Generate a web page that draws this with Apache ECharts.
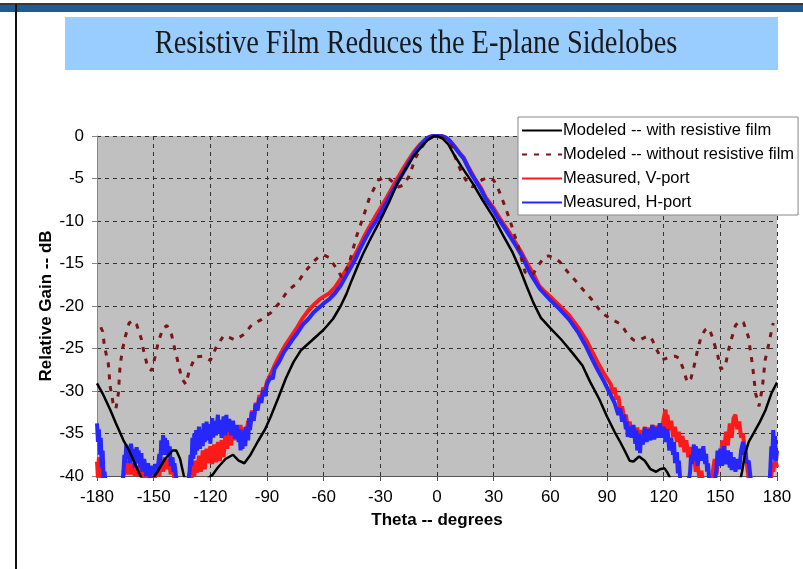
<!DOCTYPE html>
<html>
<head>
<meta charset="UTF-8">
<title>Resistive Film Reduces the E-plane Sidelobes</title>
<script src="https://cdn.jsdelivr.net/npm/echarts@6/dist/echarts.min.js"></script>
<style>
  html, body { margin: 0; padding: 0; background: #fff; }
  #main { width: 803px; height: 569px; }
</style>
</head>
<body>
<div id="main"></div>
<script type="text/javascript">
// --- data: [theta (deg), relative gain (dB)] ---
var xTicks = [-180, -150, -120, -90, -60, -30, 0, 30, 60, 90, 120, 150, 180];
var yTicks = [-40, -35, -30, -25, -20, -15, -10, -5, 0];

var modeledWith = [
  [-180,-29.1],[-177,-30.3],[-173,-32.2],[-170,-33.8],[-166,-35.8],[-163,-37],[-160,-38.5],[-156,-40.5],
  [-152,-40.8],[-148,-39.5],[-144,-38],[-140,-37],[-138,-37],[-136,-38],[-134,-40],[-131,-42],[-126,-42],
  [-121,-40.2],[-119,-39.9],[-116,-39],[-112,-38],[-108,-37.5],[-105,-38.2],[-102,-38.5],[-99,-37.6],
  [-95,-36],[-91,-34.5],[-88,-33],[-84,-30.8],[-80,-28.5],[-76,-26.6],[-72,-25.2],[-66,-24],[-60,-22.8],
  [-55,-21.5],[-51,-20],[-48,-18.6],[-45,-16.9],[-42,-15.3],[-39,-13.8],[-35,-12],[-30,-9.9],[-25,-7.6],
  [-21,-5.6],[-17,-4],[-12.5,-2.4],[-8,-1.2],[-5,-0.5],[-2,-0.05],[0,0],[3,-0.3],[6,-1.0],[9,-2.2],
  [13,-3.6],[16,-4.6],[19,-5.6],[24,-7.5],[30,-9.6],[35,-11.7],[40,-13.7],[44,-15.7],[47.5,-17.7],
  [51,-19.6],[55,-21.4],[60,-22.6],[66,-24],[72,-25.6],[77,-27],[81,-28.9],[86,-31],[90,-33],[94,-34.8],
  [97,-36],[100,-37.3],[102,-38.2],[104,-38.3],[107,-37.7],[110,-38.2],[113,-39.2],[116,-39.5],[118,-39.2],
  [120.5,-39.1],[122,-39.6],[124,-40.5],[128,-42],[155,-42],[160,-41],[161.5,-39.5],[163,-37.5],[165,-36],
  [168,-34.8],[171,-33.6],[174,-32.2],[177,-30.3],[180,-29]
];

var modeledWithout = [
  [-178,-22.5],[-177,-23],[-176,-24.8],[-174,-26.8],[-173,-29.5],[-171.5,-31.4],[-170,-32.1],[-168.7,-30.3],
  [-167.8,-27.1],[-166.6,-25.2],[-165,-23.6],[-163,-22],[-161,-21.7],[-159,-22.2],[-156.5,-23.9],[-155,-25.6],
  [-153,-27.3],[-151,-27.6],[-149.3,-26],[-147.5,-24.2],[-145,-22.6],[-143,-22.3],[-140.5,-23.4],[-138.7,-25.2],
  [-137,-26.7],[-135.2,-28.5],[-133,-29.2],[-131,-27.5],[-128,-26],[-124,-25.9],[-120,-26.4],[-119,-26.2],
  [-117,-24.9],[-113,-23.5],[-110,-23.7],[-107,-24],[-104,-23.6],[-102,-23.3],[-98,-22.2],[-93,-21.6],
  [-88,-20.8],[-83,-19.5],[-79,-18.2],[-74,-17.3],[-70,-16],[-65.5,-14.8],[-62,-14.1],[-60,-14],[-57,-14.3],
  [-55,-15],[-52,-16],[-50.5,-16.6],[-48,-15.8],[-46,-14.6],[-42.6,-11.8],[-39,-9.5],[-35.5,-7.1],[-31,-5.2],
  [-28,-4.9],[-25,-5.1],[-20.5,-6],[-18,-5.8],[-15,-4.8],[-11,-2.4],[-8,-1.3],[-5.4,-0.5],[-2,-0.05],[0,0],
  [2,-0.05],[5,-0.5],[8,-1.3],[9.5,-2.4],[12,-3.8],[14.8,-5],[17,-5.8],[19,-6],[21.5,-5.4],[24.5,-5.1],
  [27,-4.9],[30,-5.2],[32,-6],[34,-7.1],[36,-8.3],[38.6,-9.9],[41,-11.6],[43,-13],[45,-14.7],[46.6,-16],
  [49,-16.4],[51,-16.2],[53,-15.4],[55,-14.8],[57,-14.2],[59,-14.1],[62,-14.3],[65,-14.8],[67,-15.4],
  [70,-16.2],[74,-17.2],[77.4,-18.1],[83,-19.5],[87,-20.8],[92,-21.5],[97.7,-22.2],[101,-23.4],[104,-24],
  [106.6,-24.1],[109,-23.8],[112,-23.5],[114,-24],[116,-25],[119,-26.3],[121,-26.2],[123,-26],[126,-25.9],
  [128,-26.1],[130.4,-27.4],[132.5,-29],[134.5,-28.5],[136.5,-26.7],[138,-25.1],[140,-23.5],[142,-22.8],
  [144,-22.6],[146,-23.8],[148.6,-25.8],[150.2,-27.4],[152.5,-27.2],[154.3,-25.2],[156,-23.8],[158,-22.3],
  [160,-21.8],[162.2,-21.9],[164.8,-23.6],[167,-26.9],[168.7,-30.3],[170.5,-31.8],[172.3,-29.5],[173.7,-26.4],
  [175.5,-24.6],[177.2,-22.8],[178,-22]
];

var measuredV = [
  [-180,-38.3],[-179.5,-40.2],[-179,-37.8],[-178.5,-39.5],[-178,-38.6],[-177.5,-40.5],[-177,-42],[-167,-42],
  [-166,-40],[-165,-38.5],[-164,-39.8],[-163,-38.2],[-162,-39.8],[-161,-38.5],[-160,-40],[-159,-38.8],
  [-158,-40],[-157,-38.6],[-156,-40.2],[-155,-39],[-154,-40.5],[-153,-39],[-152,-40.2],[-151,-39.6],
  [-150,-41],[-149,-39.8],[-148,-38.8],[-147,-40],[-146,-38],[-145,-39.5],[-144,-37.8],[-143,-39.2],
  [-142,-38],[-141,-39.8],[-140,-38.8],[-139,-40.4],[-138,-41.5],[-132,-41.5],[-130,-40.3],[-129,-38.5],
  [-128.5,-40],[-128,-38.2],[-127,-39.6],[-126,-37.6],[-125,-39.5],[-124,-37],[-123,-39.2],[-122,-36.8],
  [-121,-38.5],[-120,-36.5],[-119,-38.6],[-118,-36.3],[-117,-38.4],[-116,-36],[-115,-38.2],[-114,-35.8],
  [-113,-37.8],[-112,-35],[-111,-36.8],[-110,-34.6],[-109,-36.4],[-108,-34.3],[-107,-35.8],[-106,-34.2],
  [-105,-35.5],[-104,-34],[-103,-35.8],[-102,-34.3],[-101,-35.2],[-100,-33.5],[-99,-34],[-98,-32.3],
  [-97,-33.2],[-96,-31.4],[-95,-31.8],[-94,-30.5],[-93,-30.8],[-92,-29.6],[-91,-29.9],[-90,-28.9],
  [-89,-29],[-88,-28],[-87,-27.9],[-86,-27],[-85,-26.8],[-84,-26.1],[-82,-25.3],[-80,-24.5],[-77,-23.5],
  [-74,-22.5],[-71,-21.4],[-68,-20.5],[-65,-19.8],[-62,-19.2],[-60,-18.9],[-57,-18.5],[-54,-17.8],
  [-51,-16.8],[-48,-15.7],[-45,-14.6],[-42,-13.4],[-39,-12],[-36,-10.8],[-33,-9.6],[-30,-8.5],[-27,-7.4],
  [-24,-6.2],[-21,-5],[-18,-3.9],[-15,-2.8],[-12,-1.8],[-9,-1],[-6,-0.4],[-4,-0.1],[-2,0],[0,0],[2,0],
  [4,-0.1],[6,-0.4],[8,-0.9],[10,-1.4],[12,-2],[14,-2.5],[16,-3.4],[18,-4.2],[20,-5],[23,-6],[26,-7.3],
  [30,-8.5],[33,-9.6],[36,-10.6],[39,-11.6],[42,-12.7],[45,-13.8],[48,-15.1],[51,-16.2],[54,-17.6],
  [57,-18.3],[60,-18.9],[65,-20],[70,-21.1],[75,-22.6],[79,-24],[82,-25.3],[85,-26.6],[88,-27.8],
  [90,-28.5],[92,-29.2],[93,-30.3],[94,-29.6],[95,-31],[96,-30.6],[97,-32.2],[98,-31.8],[99,-33.2],
  [100,-32.8],[101,-34.2],[102,-33.6],[103,-35.2],[104,-34.2],[105,-35.8],[106,-34.3],[107,-36.5],
  [108,-34.6],[109,-35.8],[110,-34.2],[111,-35.6],[112,-34.3],[113,-35.4],[114,-34],[115,-35.6],
  [116,-34.1],[117,-35.2],[118,-33.8],[119,-35],[120,-33.2],[121,-32.2],[121.5,-34.5],[122,-32.8],
  [123,-34.6],[124,-33.5],[125,-35.4],[126,-34.2],[127,-36],[128,-34.8],[129,-36.6],[130,-35.3],
  [131,-37.2],[132,-35.8],[133,-37.8],[134,-36.6],[135,-38.5],[136,-37.5],[137,-39.5],[138,-38.8],
  [139,-40.3],[140,-39.4],[141,-41],[145,-41],[146,-39.5],[147,-38],[148,-39.8],[149,-37.5],[150,-38.6],
  [151,-35.8],[152,-37.2],[153,-34.8],[154,-36.4],[155,-33.8],[156,-35.5],[157,-33.2],[158,-32.8],
  [159,-34.5],[160,-33.6],[161,-35.5],[162,-35],[163,-37.2],[164,-38.5],[165,-40.4],[166,-41.5],
  [176,-41.5],[177,-40],[177.5,-38.5],[178,-39.5],[179,-38],[180,-39]
];

var measuredH = [
  [-180,-33.8],[-179.5,-36],[-179,-34.5],[-178.5,-37.5],[-178,-35.5],[-177.5,-39],[-177,-37],[-176.5,-40.5],
  [-176,-39.5],[-175,-42],[-167,-42],[-166,-39.5],[-165.5,-37.5],[-165,-38.5],[-164.5,-36.3],[-164,-38],
  [-163,-36.5],[-162.5,-38.5],[-162,-36.2],[-161,-38.2],[-160.5,-36.8],[-160,-39],[-159,-36.6],[-158.5,-38.5],
  [-158,-37],[-157,-39],[-156.5,-37.3],[-156,-39.5],[-155,-38],[-154,-40],[-153,-38.5],[-152,-40.2],
  [-151,-38.8],[-150,-39.8],[-149,-38.6],[-148,-39.5],[-147,-37.4],[-146.5,-38.8],[-146,-35.8],[-145.5,-37.5],
  [-145,-35.2],[-144.5,-37],[-144,-35.5],[-143.5,-37.5],[-143,-35.8],[-142,-37.8],[-141.5,-36.5],[-141,-38.8],
  [-140,-37.8],[-139.5,-39.5],[-139,-38.5],[-138,-40.3],[-137,-41],[-132,-41],[-131,-39.5],[-130.5,-37.5],
  [-130,-38.8],[-129.5,-35.5],[-129,-38],[-128.5,-35],[-128,-37.5],[-127.5,-34.6],[-127,-37],[-126,-34.2],
  [-125.5,-36.8],[-125,-34.5],[-124,-36.5],[-123.5,-33.8],[-123,-36],[-122,-33.6],[-121,-35.8],[-120.5,-33.9],
  [-120,-36.2],[-119,-33.2],[-118.5,-35.5],[-118,-33.5],[-117,-35.2],[-116,-32.8],[-115.5,-35],[-115,-33.4],
  [-114,-35.5],[-113,-33],[-112,-35.2],[-111.5,-32.8],[-111,-34.8],[-110,-33.3],[-109,-35.2],[-108,-33.5],
  [-107,-35.6],[-106,-34],[-105,-36],[-104.5,-34.5],[-104,-37],[-103.5,-35],[-103,-36.8],[-102,-34.6],
  [-101.5,-36.5],[-101,-34.2],[-100,-35.8],[-99.5,-33.2],[-99,-34.6],[-98,-32.5],[-97,-33.5],[-96,-31.5],
  [-95,-32.3],[-94,-30.8],[-93,-31.4],[-92,-29.9],[-91,-30.6],[-90,-29.2],[-89,-29.4],[-88,-28.3],
  [-87,-28.6],[-86,-27.4],[-85,-27.3],[-84,-26.7],[-83,-26.3],[-81,-25.4],[-79,-24.8],[-77,-24.1],
  [-74,-23.2],[-71,-22.2],[-68,-21.5],[-65.5,-20.8],[-63,-20.3],[-60,-19.7],[-57,-19.2],[-54,-18.5],
  [-51,-17.6],[-48,-16.4],[-45,-15.2],[-43,-14.4],[-41,-13.4],[-38,-12.1],[-35,-10.9],[-32,-9.9],
  [-29,-8.7],[-26,-7.5],[-23,-6.3],[-20,-5.1],[-17,-4],[-14,-2.8],[-11,-1.7],[-8,-0.9],[-6,-0.4],
  [-4,-0.1],[-2,0],[0,0],[2,0],[4,-0.1],[6,-0.4],[8,-0.9],[10,-1.5],[12,-2.1],[14,-2.6],[16,-3.5],
  [18,-4.4],[20,-5.1],[23,-6.2],[26,-7.5],[29.8,-8.7],[33,-9.9],[36,-10.9],[38.6,-11.8],[42,-13],
  [45,-14.1],[47.5,-15.3],[50,-16.4],[54.5,-18],[60,-19.3],[65,-20.4],[70,-21.6],[75,-23.2],[79,-24.8],
  [82,-26.2],[85,-27.5],[88,-28.7],[90,-29.6],[92,-30.5],[94,-31.4],[95,-31.4],[96,-32.8],[97,-32],
  [98,-33.6],[99,-32.8],[100,-34.5],[100.5,-33.6],[101,-35.4],[102,-34.2],[103,-35.5],[104,-34],
  [105,-36.2],[105.5,-34.6],[106,-37],[107,-35],[107.5,-37.3],[108,-35.3],[109,-36.3],[110,-34.3],
  [111,-36],[112,-34.5],[113,-35.8],[114,-34],[115,-35.7],[116,-34.3],[117,-35.5],[118,-33.8],
  [119,-35.5],[120,-34.2],[121,-36],[122,-34.5],[123,-37],[124,-35.5],[125,-37.5],[125.5,-36],
  [126,-38.5],[127,-37.2],[127.5,-39.7],[128,-38.2],[129,-41],[133,-41],[134,-39.5],[134.5,-37.5],
  [135,-38.6],[136,-36.3],[136.5,-38.2],[137,-36.5],[138,-38.8],[139,-36.8],[140,-38.2],[141,-36.5],
  [142,-38.6],[142.5,-37.4],[143,-39.5],[143.5,-38.5],[144,-40.3],[145,-41],[147,-41],[148,-39],
  [148.5,-37],[149,-38.8],[150,-36.8],[151,-38.8],[152,-36.5],[153,-38.6],[154,-37],[155,-39],
  [155.5,-37.2],[156,-39.3],[157,-37.8],[158,-39.5],[159,-38],[160,-39.2],[161,-37],[162,-36],
  [162.5,-37.5],[163,-36.4],[164,-38.5],[165,-38.2],[166,-40.2],[167,-41],[176,-41],[176.5,-39],
  [177,-36.5],[177.5,-38],[178,-34.6],[178.5,-36.5],[179,-35.3],[179.5,-38.2],[180,-37]
];

var seriesNames = [
  'Modeled -- with resistive film',
  'Modeled -- without resistive film',
  'Measured, V-port',
  'Measured, H-port'
];

var myChart = echarts.init(document.getElementById('main'));

var labelFont = { fontFamily: 'Liberation Sans', fontSize: 17, color: '#000' };

myChart.setOption({
  backgroundColor: '#fff',
  animation: false,
  graphic: [
    // slide frame
    { type: 'rect', shape: { x: 0, y: 3, width: 803, height: 2 }, style: { fill: '#3a3a3a' }, silent: true },
    { type: 'rect', shape: { x: 0, y: 5, width: 803, height: 7 }, style: { fill: '#1d5c9b' }, silent: true },
    { type: 'rect', shape: { x: 15, y: 4, width: 2, height: 565 }, style: { fill: '#111' }, silent: true },
    // title banner
    { type: 'rect', shape: { x: 65, y: 17, width: 713, height: 53 }, style: { fill: '#99ccff' }, silent: true },
    {
      type: 'text', x: 416, y: 44, scaleX: 0.86,
      style: {
        text: 'Resistive Film Reduces the E-plane Sidelobes',
        fontFamily: 'Liberation Serif', fontSize: 33, fill: '#1a1a1a',
        textAlign: 'center', textVerticalAlign: 'middle'
      },
      silent: true
    }
  ],
  legend: {
    data: seriesNames,
    orient: 'vertical',
    left: 518,
    top: 117,
    backgroundColor: '#fff',
    borderColor: '#888',
    borderWidth: 1,
    borderRadius: 0,
    padding: [5, 4, 4, 3],
    itemWidth: 40,
    itemHeight: 12,
    itemGap: 7,
    itemStyle: { opacity: 0 },
    textStyle: { fontFamily: 'Liberation Sans', fontSize: 16.5, color: '#000', padding: [0, 0, 0, -4] }
  },
  grid: {
    left: 97, right: 26, top: 136, bottom: 93,
    show: true, backgroundColor: '#c0c0c0', borderWidth: 0
  },
  xAxis: {
    type: 'value',
    min: xTicks[0], max: xTicks[xTicks.length - 1], interval: 30,
    name: 'Theta -- degrees',
    nameLocation: 'middle',
    nameGap: 36,
    nameMoveOverlap: false,
    nameTextStyle: { fontFamily: 'Liberation Sans', fontSize: 17, fontWeight: 'bold', color: '#000' },
    axisLine: { onZero: false, lineStyle: { color: '#555', width: 1 } },
    axisTick: { show: true, length: 5, lineStyle: { color: '#555' } },
    axisLabel: Object.assign({ margin: 13 }, labelFont),
    splitLine: { show: true, lineStyle: { color: '#333', type: [4, 4], width: 1 } }
  },
  yAxis: {
    type: 'value',
    min: yTicks[0], max: yTicks[yTicks.length - 1], interval: 5,
    name: 'Relative Gain -- dB',
    nameLocation: 'middle',
    nameGap: 42,
    nameMoveOverlap: false,
    nameTextStyle: { fontFamily: 'Liberation Sans', fontSize: 17, fontWeight: 'bold', color: '#000' },
    axisLine: { show: true, onZero: false, lineStyle: { color: '#888', width: 1 } },
    axisTick: { show: true, length: 5, lineStyle: { color: '#888' } },
    axisLabel: Object.assign({ margin: 13 }, labelFont),
    splitLine: { show: true, lineStyle: { color: '#333', type: [4, 4], width: 1 } }
  },
  series: [
    {
      name: seriesNames[2], type: 'line', data: measuredV, symbol: 'none', z: 2,
      lineStyle: { color: '#ff1a1a', width: 4 }, itemStyle: { color: '#ff1a1a' }
    },
    {
      name: seriesNames[3], type: 'line', data: measuredH, symbol: 'none', z: 3,
      lineStyle: { color: '#2626ff', width: 4 }, itemStyle: { color: '#2626ff' }
    },
    {
      name: seriesNames[1], type: 'line', data: modeledWithout, symbol: 'none', z: 4,
      lineStyle: { color: '#7a1616', width: 3, type: [5, 7] }, itemStyle: { color: '#7a1616' }
    },
    {
      name: seriesNames[0], type: 'line', data: modeledWith, symbol: 'none', z: 5,
      lineStyle: { color: '#000', width: 2.5 }, itemStyle: { color: '#000' }
    }
  ]
});
</script>
</body>
</html>
